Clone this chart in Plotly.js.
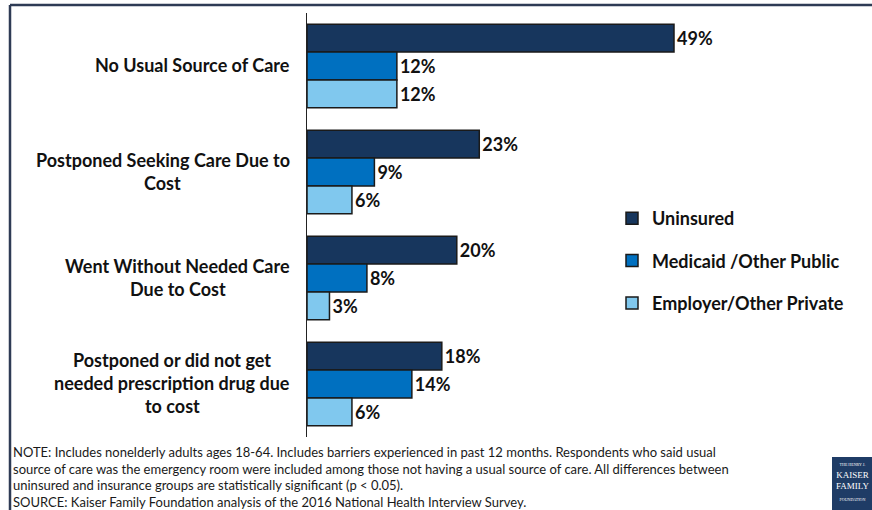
<!DOCTYPE html>
<html>
<head>
<meta charset="utf-8">
<script src="https://cdn.plot.ly/plotly-3.0.1.min.js"></script>
<style>
html,body{margin:0;padding:0;background:#fff;}
#chart{width:872px;height:510px;}
</style>
</head>
<body>
<div id="chart"></div>
<script>
// ---- data ----
const categories = [
  "No Usual Source of Care",
  "Postponed Seeking Care Due to<br>Cost",
  "Went Without Needed Care<br>Due to Cost",
  "Postponed or did not get<br>needed prescription drug due<br>to cost"
];
const seriesNames = ["Uninsured", "Medicaid /Other Public", "Employer/Other Private"];
const uninsured = [49, 23, 20, 18];
const medicaidPublic = [12, 9, 8, 14];
const employerPrivate = [12, 6, 3, 6];
const noteLines = [
  "NOTE: Includes nonelderly adults ages 18-64. Includes barriers experienced in past 12 months. Respondents who said usual",
  "source of care was the emergency room were included among those not having a usual source of care. All differences between",
  "uninsured and insurance groups are statistically significant (p < 0.05).",
  "SOURCE: Kaiser Family Foundation analysis of the 2016 National Health Interview Survey."
];

// ---- styling ----
const colors = ["#17365d", "#0070c0", "#80c8ee"];
const W = 872, H = 510;
const M = {l: 307, r: 116, t: 13, b: 73};
const PW = W - M.l - M.r, PH = H - M.t - M.b;
const px = x => (x - M.l) / PW;
const py = y => 1 - (y - M.t) / PH;
const FONT = "Lato, 'Open Sans', sans-serif";
const LABEL_SIZE = 18;

const ctx = document.createElement("canvas").getContext("2d");
ctx.font = "700 " + LABEL_SIZE + "px Lato";

const seriesVals = [uninsured, medicaidPublic, employerPrivate];
const traces = seriesVals.map((vals, i) => ({
  type: "bar",
  orientation: "h",
  name: seriesNames[i],
  legendgroup: "g" + i,
  y: categories,
  x: vals,
  text: vals.map(v => v + "%"),
  textposition: "outside",
  cliponaxis: false,
  textfont: {family: FONT, size: LABEL_SIZE, weight: 700, color: "#111"},
  marker: {color: colors[i], line: {color: "#1a1a1a", width: 1.5}},
  hoverinfo: "skip"
}));

const annotations = [];
// category labels: centered multi-line block, widest line ends near the axis
categories.forEach(cat => {
  const lines = cat.split("<br>");
  const n = lines.length;
  const maxW = Math.max(...lines.map(l => ctx.measureText(l).width));
  const cx = 290 - maxW / 2;
  lines.forEach((ln, k) => {
    annotations.push({
      xref: "paper", yref: "y", x: px(cx), y: cat,
      xanchor: "center", yanchor: "middle", align: "center",
      text: ln, showarrow: false,
      yshift: ((n - 1) / 2 - k) * 23 + 1,
      font: {family: FONT, size: LABEL_SIZE, weight: 700, color: "#111"}
    });
  });
});
// footnote
noteLines.forEach((ln, k) => {
  annotations.push({
    xref: "paper", yref: "paper", x: px(11), y: py(452 + k * 16.7),
    xanchor: "left", yanchor: "middle", align: "left",
    text: ln, showarrow: false,
    font: {family: FONT, size: 13, color: "#1a1a1a"}
  });
});
// logo text
annotations.push({
  xref: "paper", yref: "paper", x: px(852), y: py(460),
  xanchor: "center", yanchor: "top", align: "center", showarrow: false,
  text: "<span style='font-size:4px'>THE HENRY J.</span><br>KAISER<br>FAMILY<br><span style='font-size:4px'>FOUNDATION</span>",
  font: {family: "'Liberation Serif', serif", size: 9, color: "#ffffff"}
});

const shapes = [
  {type: "line", xref: "paper", yref: "paper", x0: px(10), x1: px(872), y0: py(5), y1: py(5),
   line: {color: "#2e3b55", width: 2.5}},
  {type: "line", xref: "paper", yref: "paper", x0: px(10), x1: px(10), y0: py(5), y1: py(510),
   line: {color: "#2e3b55", width: 2.5}},
  {type: "rect", xref: "paper", yref: "paper", x0: px(832), x1: px(872), y0: py(457), y1: py(510),
   fillcolor: "#1f3c66", line: {width: 0}}
];

const layout = {
  width: W, height: H,
  margin: M,
  paper_bgcolor: "#fff", plot_bgcolor: "rgba(0,0,0,0)",
  barmode: "group", bargap: 0.21, bargroupgap: 0,
  showlegend: true,
  legend: {
    x: px(612), y: py(200), xanchor: "left", yanchor: "top",
    traceorder: "grouped", tracegroupgap: 16,
    bgcolor: "rgba(0,0,0,0)",
    font: {family: FONT, size: LABEL_SIZE, weight: 700, color: "#111"}
  },
  xaxis: {range: [0, PW / (367 / 49)], visible: false, fixedrange: true},
  yaxis: {
    type: "category", autorange: "reversed",
    showticklabels: false, ticks: "", showgrid: false, zeroline: false,
    showline: true, linecolor: "#222", linewidth: 1.5
  },
  annotations: annotations,
  shapes: shapes
};

Plotly.newPlot("chart", traces, layout, {displayModeBar: false, staticPlot: true});
</script>
</body>
</html>
